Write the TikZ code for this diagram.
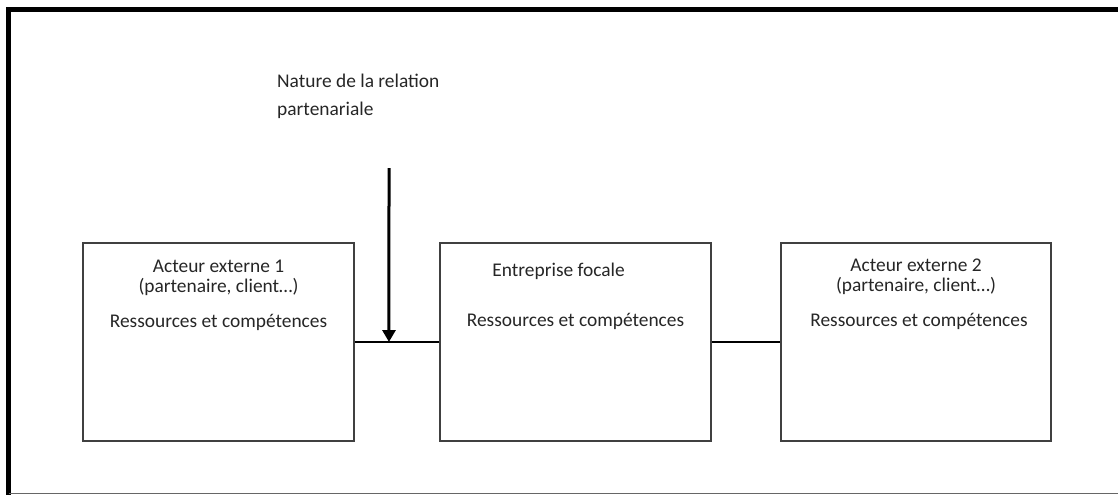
\documentclass[tikz,border=0pt]{standalone}
\usepackage{fontspec}
\setmainfont{Carlito}
\usetikzlibrary{arrows.meta,positioning,calc}

\begin{document}
\begin{tikzpicture}[
  x=1pt,y=-1pt,
  font=\fontsize{19.4}{20}\selectfont,
  n/.style={rectangle,draw=black!75,line width=1.5pt,minimum width=271pt,minimum height=198pt,inner sep=0pt},
  arr/.style={-{Triangle[width=13pt,length=12pt]},line width=3pt},
  lien/.style={line width=1.2pt},
  lbl/.style={anchor=base,text=black!85,inner sep=0pt}
]
\useasboundingbox (0,0) rectangle (1118,495);
% cadre
\draw[line width=4.5pt] (1118,9.3) -- (8.5,9.3) -- (8.5,495);
\draw[black!60,line width=1.5pt] (8.5,493.5) -- (1118,493.5);

\node[n] (act1) at (218.5,342) {};
\node[n] (foc) at (575.5,342) {};
\node[n,minimum width=270pt] (act2) at (916,342) {};

\node[lbl] (act1a) at ($(act1.north)+(0,30)$) {Acteur externe 1};
\node[lbl] (act1b) at ($(act1.north)+(0,50)$) {(partenaire, client…)};
\node[lbl] (act1c) at ($(act1.north)+(0,85)$) {Ressources et compétences};

\node[lbl,anchor=base west] (foca) at ($(foc.north west)+(53,34)$) {Entreprise focale};
\node[lbl] (focb) at ($(foc.north)+(0,84)$) {Ressources et compétences};

\node[lbl] (act2a) at ($(act2.north)+(0,29)$) {Acteur externe 2};
\node[lbl] (act2b) at ($(act2.north)+(0,49)$) {(partenaire, client…)};
\node[lbl] (act2c) at ($(act2.north)+(3,84)$) {Ressources et compétences};

\node[lbl,anchor=base west] (nat1) at (277,87) {Nature de la relation};
\node[lbl,anchor=base west] (nat2) at (277,115) {partenariale};

\draw[lien] (act1) -- coordinate[pos=0.405] (rel) (foc);
\draw[lien] (foc) -- (act2);
\coordinate (haut) at (389,168);
\draw[arr] (haut) -- (rel);
\end{tikzpicture}
\end{document}
